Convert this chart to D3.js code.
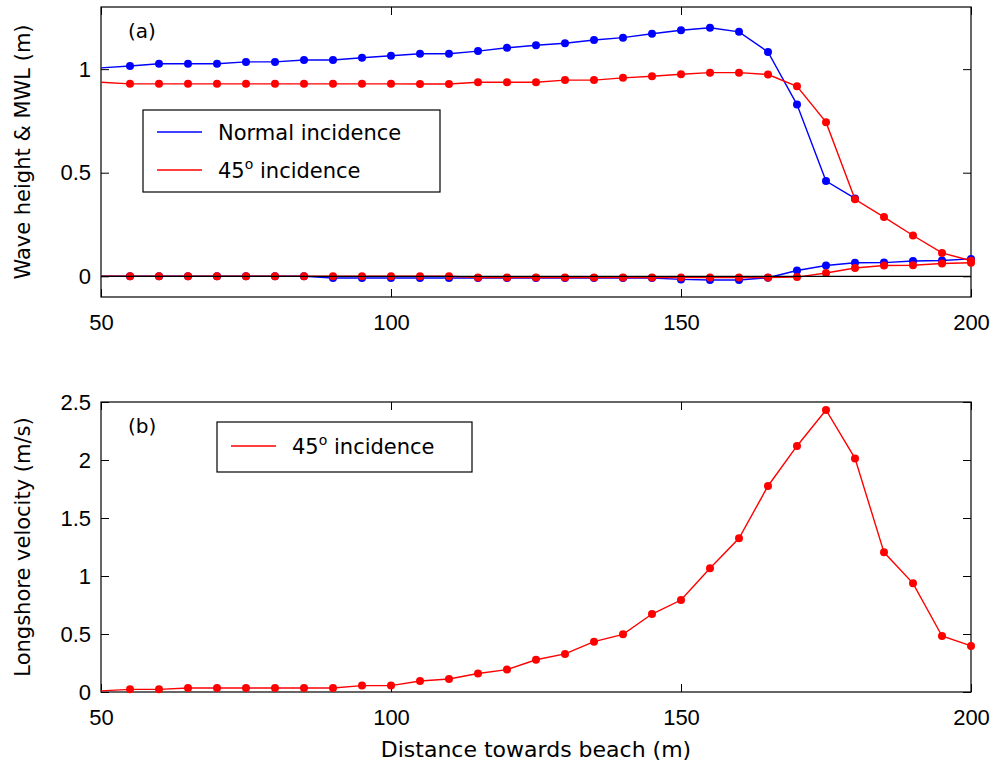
<!DOCTYPE html>
<html>
<head>
<meta charset="utf-8">
<script src="https://cdn.jsdelivr.net/npm/d3@7"></script>
<style>
  body { margin: 0; background: #fff; }
  svg { display: block; }
</style>
</head>
<body>
<div id="graph"></div>
<script>
// distance towards beach (m), one entry per computed point
const distance = [50, 55, 60, 65, 70, 75, 80, 85, 90, 95, 100, 105, 110, 115, 120, 125,
  130, 135, 140, 145, 150, 155, 160, 165, 170, 175, 180, 185, 190, 195, 200];

// panel (a): wave height, normal incidence (stops at 180 m)
const heightNormal = [1.006, 1.015, 1.026, 1.026, 1.026, 1.035, 1.035, 1.044, 1.044, 1.055,
  1.065, 1.074, 1.074, 1.087, 1.103, 1.115, 1.125, 1.141, 1.152, 1.171, 1.188, 1.2, 1.18,
  1.083, 0.829, 0.46, 0.376, null, null, null, null];
// panel (a): wave height, 45 deg incidence
const height45 = [0.937, 0.929, 0.929, 0.929, 0.929, 0.929, 0.929, 0.929, 0.929, 0.929,
  0.929, 0.928, 0.928, 0.937, 0.937, 0.937, 0.947, 0.947, 0.958, 0.966, 0.975, 0.983, 0.983,
  0.974, 0.917, 0.744, 0.372, 0.286, 0.197, 0.113, 0.075];
// panel (a): mean water level
const mwlNormal = [0, 0, 0, 0, 0, 0, 0, 0, -0.008, -0.008, -0.008, -0.008, -0.008, -0.008,
  -0.008, -0.008, -0.008, -0.008, -0.008, -0.008, -0.015, -0.018, -0.018, -0.007, 0.028,
  0.052, 0.065, 0.066, 0.074, 0.076, 0.084];
const mwl45 = [0, 0, 0, 0, 0, 0, 0, 0, 0, 0, 0, 0, 0, -0.006, -0.006, -0.006, -0.006, -0.006,
  -0.006, -0.006, -0.006, -0.006, -0.006, -0.006, -0.004, 0.016, 0.04, 0.052, 0.053, 0.062, 0.065];

// panel (b): longshore velocity (m/s), 45 deg incidence
const velocity45 = [0.01, 0.023, 0.023, 0.034, 0.034, 0.034, 0.034, 0.034, 0.034, 0.055,
  0.055, 0.095, 0.112, 0.16, 0.193, 0.278, 0.328, 0.434, 0.497, 0.672, 0.793, 1.066, 1.325,
  1.776, 2.121, 2.431, 2.014, 1.204, 0.937, 0.483, 0.397];

const xTicks = [50, 100, 150, 200];
const yTicksA = [0, 0.5, 1];
const yTicksB = [0, 0.5, 1, 1.5, 2, 2.5];

const BLUE = '#0000ff';
const RED = '#ff0000';
const tickFont = "'Liberation Sans', Arial, sans-serif";
const labelFont = "'DejaVu Sans', sans-serif";

const svgWidth = 995;
const svgHeight = 769;

const svg = d3.select('#graph')
  .append('svg')
  .attr('width', svgWidth)
  .attr('height', svgHeight);

// left/right edges shared by both panels
const left = 101, right = 971;

function makePanel(top, bottom, yDomain, yTicks, ylabel, tag) {
  const x = d3.scaleLinear().domain([50, 200]).range([left, right]);
  const y = d3.scaleLinear().domain(yDomain).range([bottom, top]);
  const g = svg.append('g');

  const styleAxis = sel => {
    sel.select('.domain').remove();
    sel.selectAll('line').attr('stroke', '#000');
    sel.selectAll('text')
      .attr('font-family', tickFont)
      .attr('font-size', 22)
      .attr('fill', '#000');
  };

  g.append('g')
    .attr('transform', `translate(0,${bottom})`)
    .call(d3.axisBottom(x).tickValues(xTicks).tickSizeInner(-8).tickSizeOuter(0).tickPadding(17))
    .call(styleAxis);
  g.append('g')
    .attr('transform', `translate(0,${top})`)
    .call(d3.axisTop(x).tickValues(xTicks).tickSizeInner(-8).tickSizeOuter(0).tickFormat(''))
    .call(styleAxis);
  g.append('g')
    .attr('transform', `translate(${left},0)`)
    .call(d3.axisLeft(y).tickValues(yTicks).tickSizeInner(-8).tickSizeOuter(0).tickPadding(10)
      .tickFormat(d => String(d)))
    .call(styleAxis);
  g.append('g')
    .attr('transform', `translate(${right},0)`)
    .call(d3.axisRight(y).tickValues(yTicks).tickSizeInner(-8).tickSizeOuter(0).tickFormat(''))
    .call(styleAxis);

  g.append('rect')
    .attr('x', left).attr('y', top)
    .attr('width', right - left).attr('height', bottom - top)
    .attr('fill', 'none').attr('stroke', '#000').attr('stroke-width', 1.2);

  g.append('text')
    .attr('transform', `translate(30,${(top + bottom) / 2}) rotate(-90)`)
    .attr('text-anchor', 'middle')
    .attr('font-family', labelFont)
    .attr('font-size', 21)
    .text(ylabel);

  g.append('text')
    .attr('x', 128).attr('y', top + 31)
    .attr('font-family', labelFont)
    .attr('font-size', 20)
    .text(tag);

  return { g, x, y };
}

function drawSeries(p, values, color) {
  const pts = distance.map((d, i) => ({ d, v: values[i] })).filter(o => o.v !== null);
  const line = d3.line().x(o => p.x(o.d)).y(o => p.y(o.v));
  p.g.append('path')
    .attr('d', line(pts))
    .attr('fill', 'none')
    .attr('stroke', color)
    .attr('stroke-width', 1.4);
  // no marker drawn at the first station (50 m)
  p.g.selectAll(null)
    .data(pts.filter(o => o.d > 50))
    .enter().append('circle')
    .attr('cx', o => p.x(o.d))
    .attr('cy', o => p.y(o.v))
    .attr('r', 4)
    .attr('fill', color);
}

function legend(p, x0, y0, w, h, entries) {
  const lg = p.g.append('g').attr('transform', `translate(${x0},${y0})`);
  lg.append('rect')
    .attr('width', w).attr('height', h)
    .attr('fill', '#fff').attr('stroke', '#000').attr('stroke-width', 1.2);
  entries.forEach((e, i) => {
    const cy = e.dy;
    lg.append('line')
      .attr('x1', 14).attr('x2', 59).attr('y1', cy).attr('y2', cy)
      .attr('stroke', e.color).attr('stroke-width', 1.4);
    const t = lg.append('text')
      .attr('x', 75).attr('y', cy + 8)
      .attr('font-family', labelFont)
      .attr('font-size', 21);
    if (e.sup) {
      t.append('tspan').text(e.pre);
      t.append('tspan').attr('font-size', 14).attr('dy', -9).text(e.sup);
      t.append('tspan').attr('dy', 9).text(e.post);
    } else {
      t.text(e.pre);
    }
  });
}

// panel (a)
const pa = makePanel(7, 297, [-0.1, 1.3], yTicksA, 'Wave height & MWL (m)', '(a)');
drawSeries(pa, heightNormal, BLUE);
drawSeries(pa, mwlNormal, BLUE);
drawSeries(pa, height45, RED);
drawSeries(pa, mwl45, RED);
// zero line sits on top of the data
pa.g.append('line')
  .attr('x1', pa.x(50)).attr('x2', pa.x(200))
  .attr('y1', pa.y(0)).attr('y2', pa.y(0))
  .attr('stroke', '#000').attr('stroke-width', 1.2);
legend(pa, 143, 110, 297, 82, [
  { color: BLUE, pre: 'Normal incidence', dy: 22 },
  { color: RED, pre: '45', sup: 'o', post: ' incidence', dy: 60 }
]);

// panel (b)
const pb = makePanel(402, 692, [0, 2.5], yTicksB, 'Longshore velocity (m/s)', '(b)');
drawSeries(pb, velocity45, RED);
legend(pb, 217, 422, 255, 50, [
  { color: RED, pre: '45', sup: 'o', post: ' incidence', dy: 24 }
]);

svg.append('text')
  .attr('x', (left + right) / 2).attr('y', 757)
  .attr('text-anchor', 'middle')
  .attr('font-family', labelFont)
  .attr('font-size', 22)
  .text('Distance towards beach (m)');
</script>
</body>
</html>
